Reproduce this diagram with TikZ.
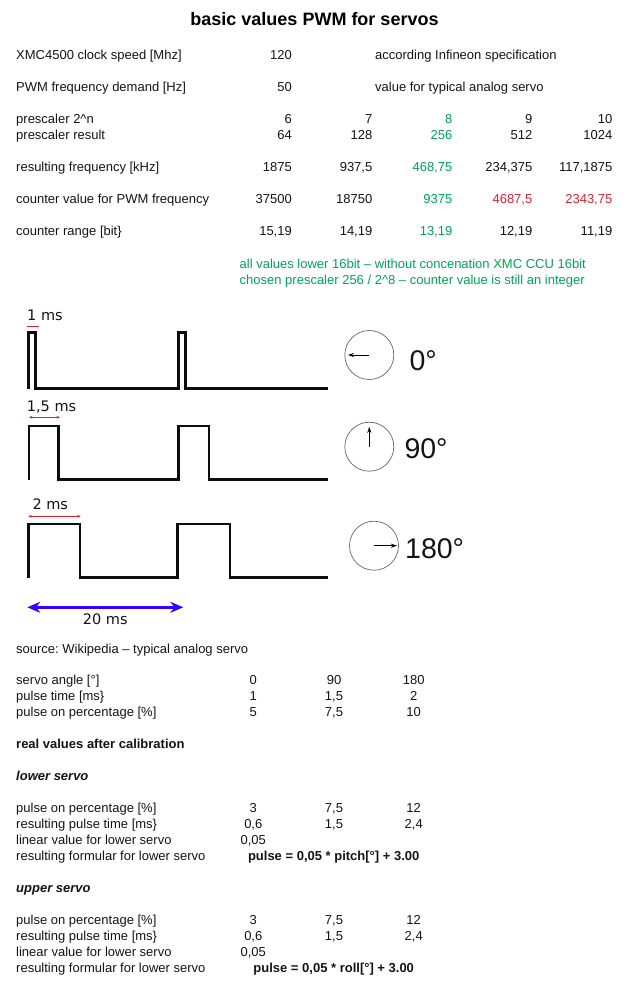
\documentclass[tikz,border=0pt]{standalone}
\usepackage{fontspec}
\setmainfont{Liberation Sans}
\newfontfamily\dejavu{DejaVu Sans}
\usetikzlibrary{arrows.meta}
\definecolor{tgreen}{RGB}{0,163,85}
\definecolor{tred}{RGB}{222,32,48}
\definecolor{tblue}{RGB}{55,0,255}
\definecolor{tink}{RGB}{20,20,20}
\frenchspacing
\begin{document}
\begin{tikzpicture}[x=1pt,y=-1pt,
  txt/.style={inner sep=0pt, text=tink, font=\fontsize{13}{15}\selectfont},
  lab/.style={txt, anchor=base west},
  num/.style={txt, anchor=base east},
  cnum/.style={txt, anchor=base},
  grn/.style={text=tgreen},
  rd/.style={text=tred},
  wave/.style={line width=2.4pt, draw=black!95, line join=miter},
  dial/.style={circle, draw=black!60, line width=0.7pt, minimum size=49pt, inner sep=0pt},
  needle/.style={-{Stealth[length=6pt,width=4.2pt]}, line width=0.9pt, black},
  deg/.style={inner sep=0pt, anchor=base west, text=tink, font=\fontsize{28.5}{30}\selectfont},
  mslab/.style={inner sep=0pt, text=tink, font=\dejavu\fontsize{14.5}{16}\selectfont},
  redarr/.style={{Stealth[length=3.5pt,width=2.8pt]}-{Stealth[length=3.5pt,width=2.8pt]}, line width=0.8pt, tred},
  bluearr/.style={{Stealth[length=13pt,width=11pt]}-{Stealth[length=13pt,width=11pt]}, line width=3pt, tblue}
]
\useasboundingbox (0,0) rectangle (637,992);

% title
\node[inner sep=0pt, anchor=base, text=black, font=\fontsize{18}{20}\selectfont\bfseries] (title) at (314.5,26) {basic values PWM for servos};

% top table
\node[lab] (l1) at (16,59.3) {XMC4500 clock speed [Mhz]};
\node[num] (v1) at (292,59.3) {120};
\node[lab] (n1) at (375,59.3) {according Infineon specification};

\node[lab] (l2) at (16,91.3) {PWM frequency demand [Hz]};
\node[num] (v2) at (292,91.3) {50};
\node[lab] (n2) at (375,91.3) {value for typical analog servo};

\node[lab] (l3) at (16,123.3) {prescaler 2\^{}n};
\node[num] (p1) at (292,123.3) {6};
\node[num] (p2) at (372.5,123.3) {7};
\node[num,grn] (p3) at (452.5,123.3) {8};
\node[num] (p4) at (532.5,123.3) {9};
\node[num] (p5) at (612.5,123.3) {10};

\node[lab] (l4) at (16,139.3) {prescaler result};
\node[num] (r1) at (292,139.3) {64};
\node[num] (r2) at (372.5,139.3) {128};
\node[num,grn] (r3) at (452.5,139.3) {256};
\node[num] (r4) at (532.5,139.3) {512};
\node[num] (r5) at (612.5,139.3) {1024};

\node[lab] (l5) at (16,171.3) {resulting frequency [kHz]};
\node[num] (f1) at (292,171.3) {1875};
\node[num] (f2) at (372.5,171.3) {937,5};
\node[num,grn] (f3) at (452.5,171.3) {468,75};
\node[num] (f4) at (532.5,171.3) {234,375};
\node[num] (f5) at (612.5,171.3) {117,1875};

\node[lab] (l6) at (16,203.3) {counter value for PWM frequency};
\node[num] (c1) at (292,203.3) {37500};
\node[num] (c2) at (372.5,203.3) {18750};
\node[num,grn] (c3) at (452.5,203.3) {9375};
\node[num,rd] (c4) at (532.5,203.3) {4687,5};
\node[num,rd] (c5) at (612.5,203.3) {2343,75};

\node[lab] (l7) at (16,235.3) {counter range [bit\}};
\node[num] (b1) at (292,235.3) {15,19};
\node[num] (b2) at (372.5,235.3) {14,19};
\node[num,grn] (b3) at (452.5,235.3) {13,19};
\node[num] (b4) at (532.5,235.3) {12,19};
\node[num] (b5) at (612.5,235.3) {11,19};

\node[lab,grn] (g1) at (239.5,268.3) {all values lower 16bit -- without concenation XMC CCU 16bit};
\node[lab,grn] (g2) at (239.5,284.3) {chosen prescaler 256 / 2\^{}8 -- counter value is still an integer};

% waveforms
\draw[wave] (28.5,389) -- (28.5,332.5) -- (35.5,332.5) -- (35.5,388.5) -- (178.5,388.5) -- (178.5,332.5) -- (185.5,332.5) -- (185.5,388.5) -- (328,388.5);
\draw[wave] (28.7,480) -- (28.7,425.7) -- (58.3,425.7) -- (58.3,479.3) -- (178.3,479.3) -- (178.3,425.7) -- (208.7,425.7) -- (208.7,479.3) -- (328,479.3);
\draw[wave] (28.3,578) -- (28.3,524) -- (80,524) -- (80,577.3) -- (177.3,577.3) -- (177.3,524) -- (230,524) -- (230,577.3) -- (327.7,577.3);

% timing labels
\node[mslab, anchor=base west] (ms1) at (27,320.7) {1 ms};
\coordinate (u1a) at (27,326);
\coordinate (u1b) at (39,326);
\draw[line width=0.8pt, tred] (u1a) -- (u1b);

\node[mslab, anchor=base west] (ms15) at (26.7,411.7) {1,5 ms};
\coordinate (a15a) at (29,417.3);
\coordinate (a15b) at (60,417.3);
\draw[redarr] (a15a) -- (a15b);

\node[mslab, anchor=base west] (ms2) at (32.3,509) {2 ms};
\coordinate (a2a) at (28.3,516.3);
\coordinate (a2b) at (80.7,516.3);
\draw[redarr] (a2a) -- (a2b);

\coordinate (pa) at (27.3,607.3);
\coordinate (pb) at (183.3,607.3);
\draw[bluearr] (pa) -- (pb);
\node[mslab, anchor=base] (ms20) at (105.3,624) {20 ms};

% dials
\node[dial] (d1) at (369.3,355) {};
\draw[needle] (d1.center) -- ([xshift=3.5pt]d1.west);
\node[deg] (t1) at (409.3,370) {0°};

\node[dial] (d2) at (369.3,446.7) {};
\draw[needle] (d2.center) -- ([yshift=-5pt]d2.north);
\node[deg] (t2) at (404.3,458.5) {90°};

\node[dial] (d3) at (374,545.7) {};
\draw[needle] (d3.center) -- ([xshift=-2pt]d3.east);
\node[deg] (t3) at (405,558.3) {180°};

% bottom section
\node[lab] (src) at (16,653.3) {source: Wikipedia -- typical analog servo};

\node[lab] (sa) at (16,684.3) {servo angle [°]};
\node[cnum] (sa1) at (253.3,684.3) {0};
\node[cnum] (sa2) at (334,684.3) {90};
\node[cnum] (sa3) at (413.7,684.3) {180};

\node[lab] (pt) at (16,700.3) {pulse time [ms\}};
\node[cnum] (pt1) at (253.3,700.3) {1};
\node[cnum] (pt2) at (334,700.3) {1,5};
\node[cnum] (pt3) at (413.7,700.3) {2};

\node[lab] (pp) at (16,716.3) {pulse on percentage [\%]};
\node[cnum] (pp1) at (253.3,716.3) {5};
\node[cnum] (pp2) at (334,716.3) {7,5};
\node[cnum] (pp3) at (413.7,716.3) {10};

\node[lab, font=\fontsize{13}{15}\selectfont\bfseries] (rv) at (16,748.3) {real values after calibration};

\node[lab, font=\fontsize{13}{15}\selectfont\bfseries\itshape] (ls) at (16,780.3) {lower servo};

\node[lab] (lp) at (16,812.3) {pulse on percentage [\%]};
\node[cnum] (lp1) at (253.3,812.3) {3};
\node[cnum] (lp2) at (334,812.3) {7,5};
\node[cnum] (lp3) at (413.7,812.3) {12};

\node[lab] (lt) at (16,828.3) {resulting pulse time [ms\}};
\node[cnum] (lt1) at (253.3,828.3) {0,6};
\node[cnum] (lt2) at (334,828.3) {1,5};
\node[cnum] (lt3) at (413.7,828.3) {2,4};

\node[lab] (ll) at (16,844.3) {linear value for lower servo};
\node[cnum] (ll1) at (253.3,844.3) {0,05};

\node[lab] (lf) at (16,860.3) {resulting formular for lower servo};
\node[cnum, font=\fontsize{13}{15}\selectfont\bfseries] (lf1) at (333.7,860.3) {pulse = 0,05 * pitch[°] + 3.00};

\node[lab, font=\fontsize{13}{15}\selectfont\bfseries\itshape] (us) at (16,892.3) {upper servo};

\node[lab] (up) at (16,924.3) {pulse on percentage [\%]};
\node[cnum] (up1) at (253.3,924.3) {3};
\node[cnum] (up2) at (334,924.3) {7,5};
\node[cnum] (up3) at (413.7,924.3) {12};

\node[lab] (ut) at (16,940.3) {resulting pulse time [ms\}};
\node[cnum] (ut1) at (253.3,940.3) {0,6};
\node[cnum] (ut2) at (334,940.3) {1,5};
\node[cnum] (ut3) at (413.7,940.3) {2,4};

\node[lab] (ul) at (16,956.3) {linear value for lower servo};
\node[cnum] (ul1) at (253.3,956.3) {0,05};

\node[lab] (uf) at (16,972.3) {resulting formular for lower servo};
\node[cnum, font=\fontsize{13}{15}\selectfont\bfseries] (uf1) at (333.7,972.3) {pulse = 0,05 * roll[°] + 3.00};
\end{tikzpicture}
\end{document}
